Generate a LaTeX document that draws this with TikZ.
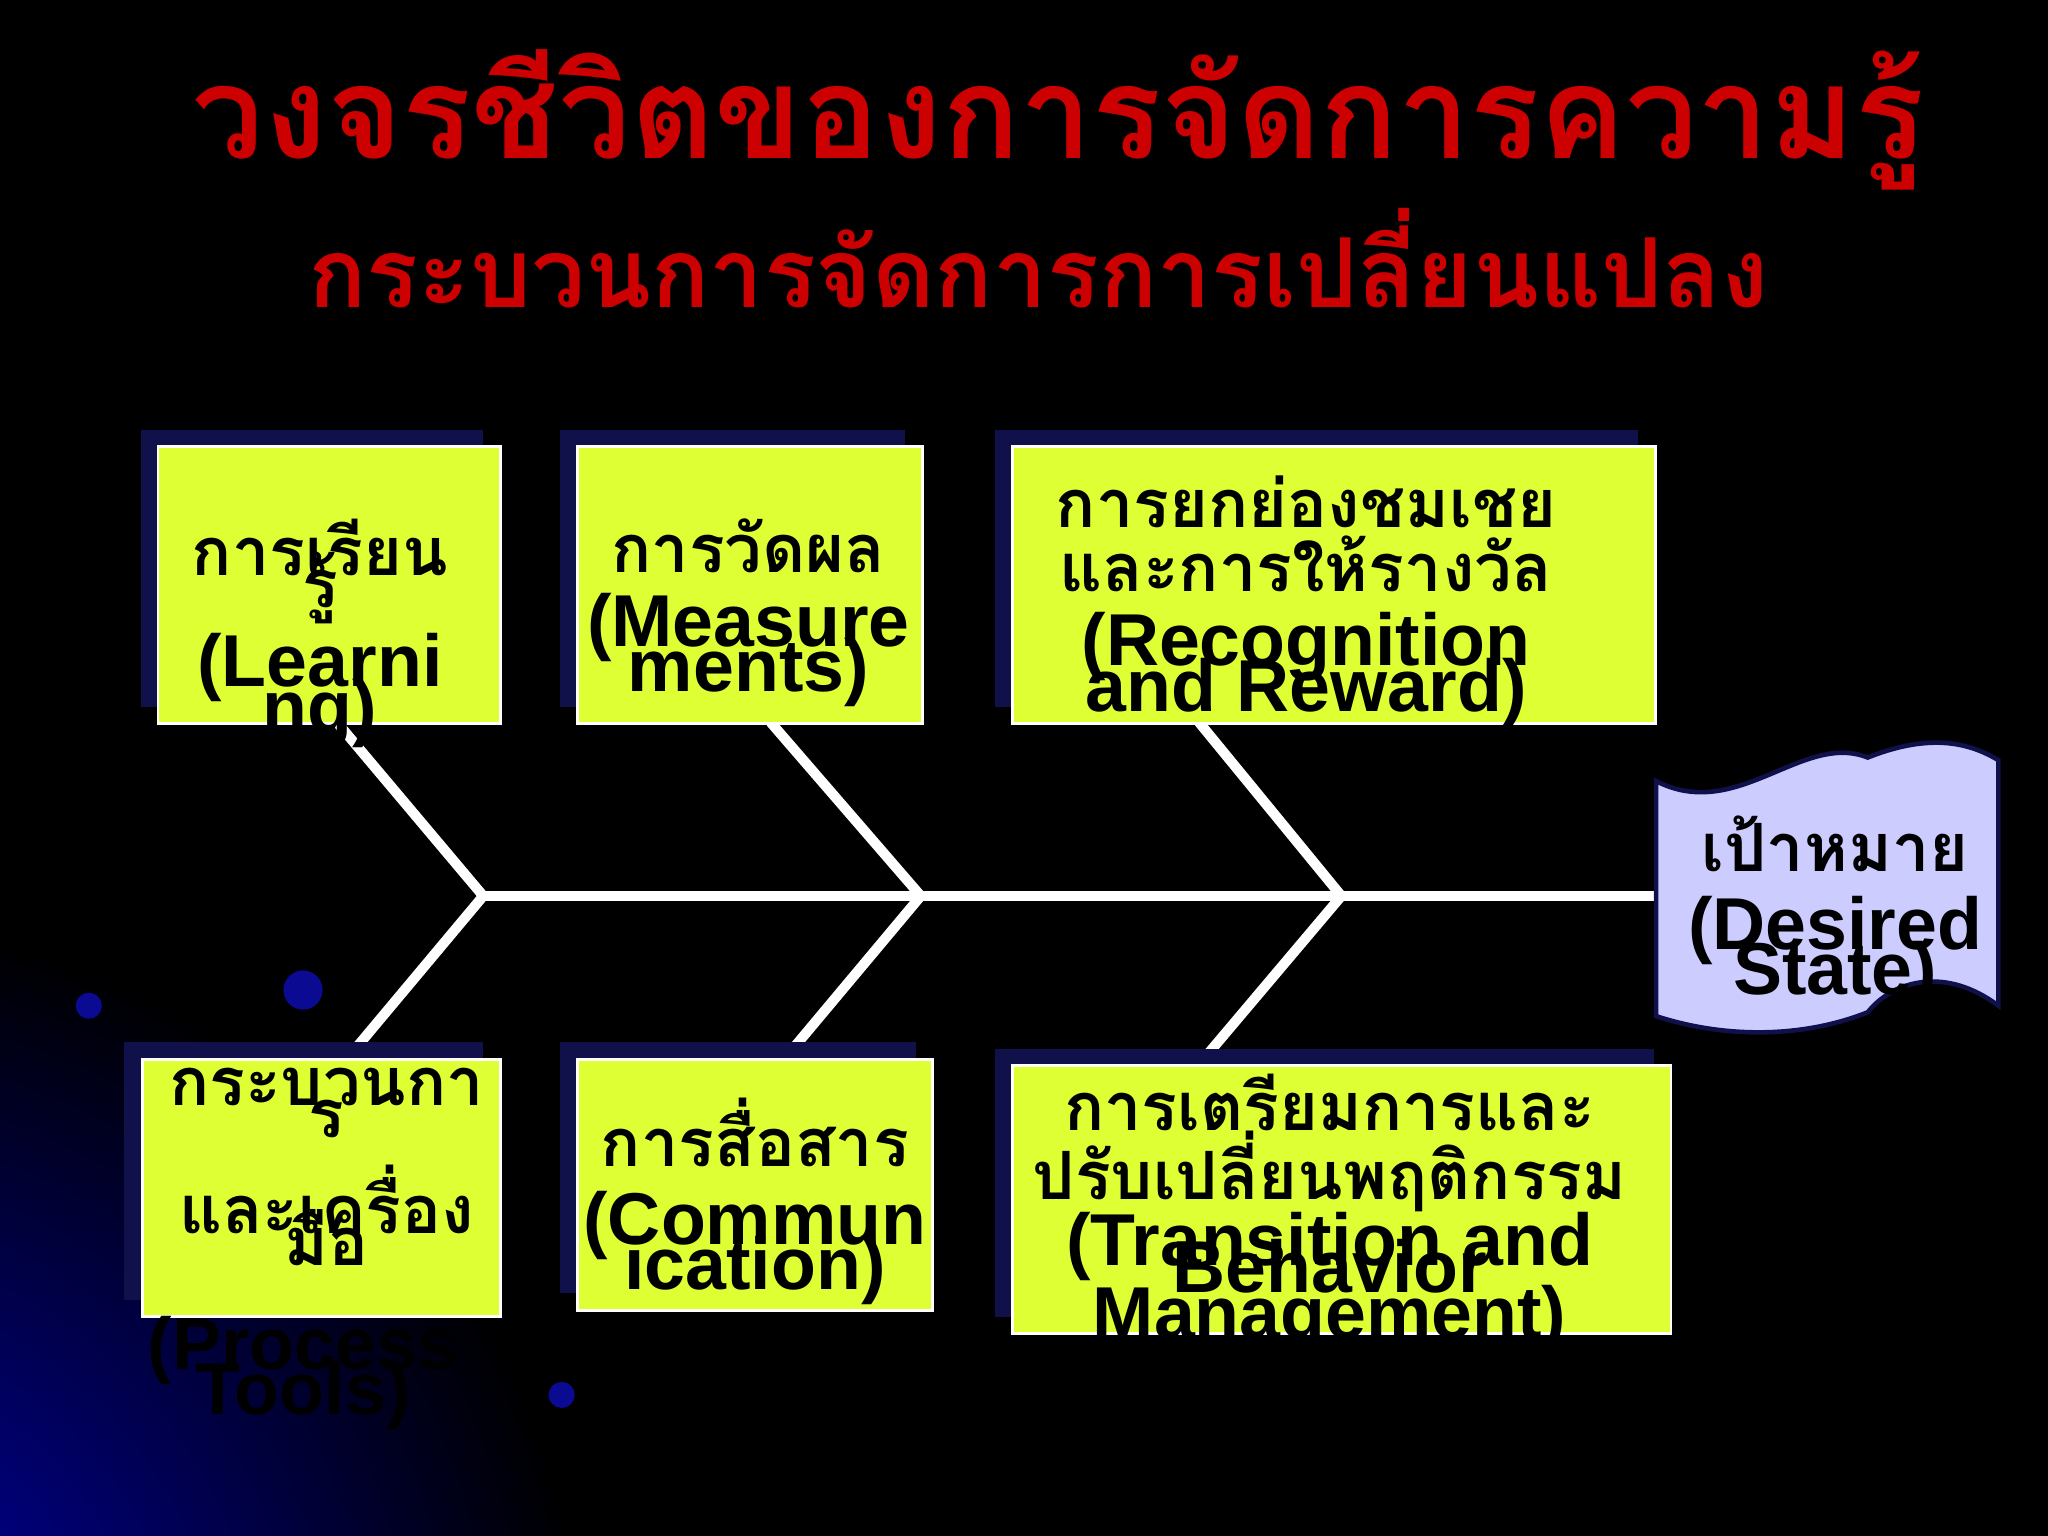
\documentclass[tikz,border=0pt]{standalone}
\usepackage{fontspec}
\newfontfamily\thai[Script=Thai]{Loma}
\newfontfamily\en{Liberation Sans}
\newcommand{\E}[1]{{\en\bfseries\fontsize{16}{13}\selectfont #1}}
\begin{document}
\begin{tikzpicture}[x=0.01cm,y=-0.01cm,
  box/.style={fill=boxc,draw=white,line width=0.6pt,inner sep=0pt},
  shad/.style={fill=shadc},
  bone/.style={draw=white,line width=2.2pt},
  txt/.style={font=\thai\bfseries\fontsize{14.5}{13}\selectfont,align=center,text=black}]
\definecolor{boxc}{HTML}{DDFF33}
\definecolor{shadc}{HTML}{10104A}
\definecolor{titc}{HTML}{CC0000}
\definecolor{goalc}{HTML}{CCCCFF}
\useasboundingbox (0,0) rectangle (1568,1176);
\fill[black] (0,0) rectangle (1568,1176);
\shade[inner color=blue!70!black,outer color=black] (-150,1300) circle (600);
\fill[black] (0,0) rectangle (1568,640);
\begin{scope}
\clip (0,640) rectangle (600,1176);
\foreach \r in {420,480,540}{\draw[blue!40!black,line width=1pt] (560,1176) arc (0:80:\r);}
\end{scope}
\fill[shadc!60!blue] (232,758) circle (15);
\fill[shadc!60!blue] (68,770) circle (10);
\fill[shadc!60!blue] (430,1068) circle (10);
\node[font=\thai\bfseries\fontsize{28}{30}\selectfont,text=titc] (t1) at (810,92) {วงจรชีวิตของการจัดการความรู้};
\node[font=\thai\bfseries\fontsize{21}{24}\selectfont,text=titc] (t2) at (795,198) {กระบวนการจัดการการเปลี่ยนแปลง};
% bones
\coordinate (j1) at (370,686); \coordinate (j2) at (705,686); \coordinate (j3) at (1027,686); \coordinate (je) at (1268,686);
\draw[bone] (j1) -- (je);
\draw[bone] (258,553) -- (j1) -- (262,815);
\draw[bone] (590,553) -- (j2) -- (597,815);
\draw[bone] (918,553) -- (j3) -- (918,815);
% boxes
\fill[shad] (108,329) rectangle (370,541); \node[box,minimum width=2.62cm,minimum height=2.12cm,anchor=north west] (b1) at (120,341) {};
\fill[shad] (429,329) rectangle (693,541); \node[box,minimum width=2.64cm,minimum height=2.12cm,anchor=north west] (b2) at (441,341) {};
\fill[shad] (762,329) rectangle (1254,541); \node[box,minimum width=4.92cm,minimum height=2.12cm,anchor=north west] (b3) at (774,341) {};
\fill[shad] (95,798) rectangle (370,995); \node[box,minimum width=2.74cm,minimum height=1.97cm,anchor=north west] (b4) at (108,810) {};
\fill[shad] (429,798) rectangle (701,990); \node[box,minimum width=2.72cm,minimum height=1.92cm,anchor=north west] (b5) at (441,810) {};
\fill[shad] (762,803) rectangle (1266,1008); \node[box,minimum width=5.04cm,minimum height=2.05cm,anchor=north west] (b6) at (774,815) {};
\node[txt,anchor=north] at (245,385) {การเรียน\\[-6pt]รู้\\[1pt]\E{(Learni}\\[-6pt]\E{ng)}};
\node[txt,anchor=north] at (573,385) {การวัดผล\\[3pt]\E{(Measure}\\[-6pt]\E{ments)}};
\begin{scope}
\clip (774,341) rectangle (1266,560);
\node[txt,anchor=north] at (1000,352) {การยกย่องชมเชย\\[1pt]และการให้รางวัล\\[3pt]\E{(Recognition}\\[-6pt]\E{and Reward)}};
\end{scope}
\node[txt,anchor=north] at (250,805) {กระบวนกา\\[-6pt]ร\\[5pt]และเครื่อง\\[-6pt]มือ};
\node[txt,anchor=north,text=black] at (232,995) {\E{(Process}\\[-6pt]\E{Tools)}};
\node[txt,anchor=north] at (578,828) {การสื่อสาร\\[4pt]\E{(Commun}\\[-6pt]\E{ication)}};
\node[txt,anchor=north] at (1018,810) {การเตรียมการและ\\[-1pt]ปรับเปลี่ยนพฤติกรรม\\[-1pt]\E{(Transition and}\\[-10pt]\E{Behavior}\\[-3pt]\E{Management)}};
% goal
\draw[fill=goalc,draw=shadc,line width=1pt] (1268,598) .. controls (1330,630) and (1380,560) .. (1430,580) .. controls (1480,560) and (1510,570) .. (1530,582) -- (1530,770) .. controls (1490,740) and (1450,750) .. (1430,775) .. controls (1380,795) and (1320,795) .. (1268,778) -- cycle;
\node[txt,anchor=north] (g) at (1405,612) {เป้าหมาย\\[4pt]\E{(Desired}\\[-6pt]\E{State)}};
\end{tikzpicture}
\end{document}
